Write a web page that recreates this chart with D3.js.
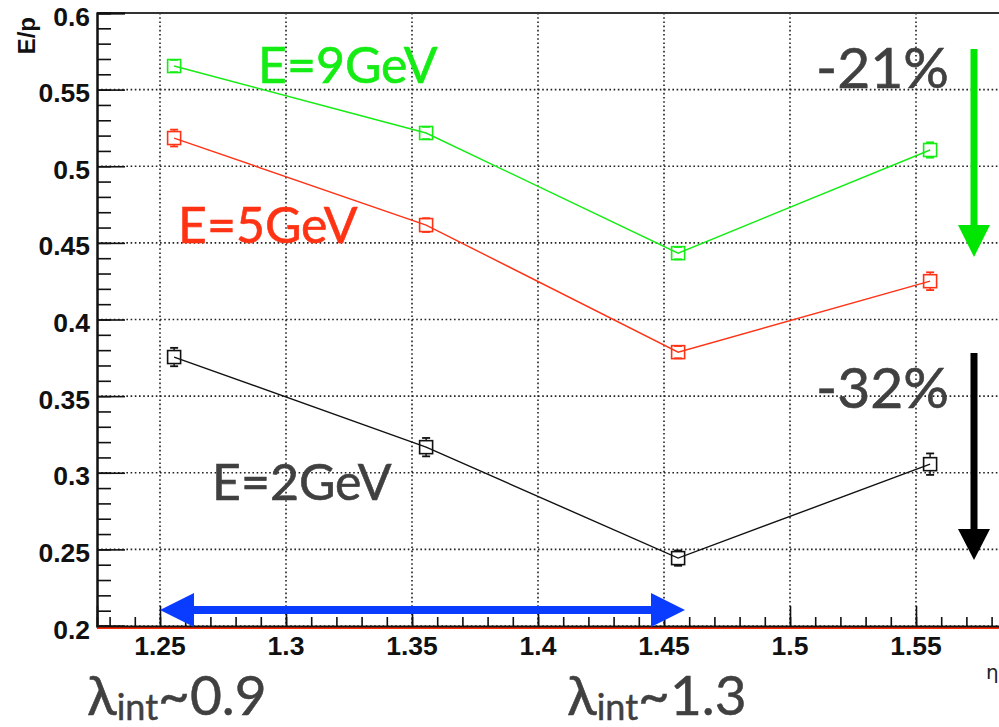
<!DOCTYPE html>
<html>
<head>
<meta charset="utf-8">
<script src="https://cdn.jsdelivr.net/npm/d3@7"></script>
<style>
  html, body { margin: 0; padding: 0; background: #fff; }
  svg { display: block; }
</style>
</head>
<body>
<div id="chart"></div>
<script>
// ---- data ----
const etaValues = [1.2556, 1.3556, 1.4556, 1.5556];
const series9GeV = [0.5654, 0.5217, 0.4433, 0.5106];
const errors9GeV = [0.004, 0.004, 0.004, 0.005];
const series5GeV = [0.5184, 0.4616, 0.3787, 0.4250];
const errors5GeV = [0.0055, 0.0045, 0.004, 0.0058];
const series2GeV = [0.3755, 0.3167, 0.2443, 0.3056];
const errors2GeV = [0.006, 0.006, 0.005, 0.007];
const seriesNames = ["E=9GeV", "E=5GeV", "E=2GeV"];
const xTickLabels = ["1.25", "1.3", "1.35", "1.4", "1.45", "1.5", "1.55"];
const yTickLabels = ["0.2", "0.25", "0.3", "0.35", "0.4", "0.45", "0.5", "0.55", "0.6"];

const W = 999, H = 727;
const green = "#14ec14", red = "#ff3214", black = "#111111", gray = "#404040", blue = "#0a3cff";

const svg = d3.select("#chart").append("svg").attr("width", W).attr("height", H);

const x = d3.scaleLinear().domain([1.225, 1.6]).range([97, 1042]);
const y = d3.scaleLinear().domain([0.2, 0.6]).range([626, 13]);

// grid
const grid = svg.append("g");
xTickLabels.map(Number).forEach(v => {
  grid.append("line").attr("x1", x(v)).attr("x2", x(v)).attr("y1", y(0.6)).attr("y2", y(0.2))
    .attr("stroke", "#222").attr("stroke-width", 1.6).attr("stroke-dasharray", "1.6,2.6");
});
yTickLabels.map(Number).forEach(v => {
  grid.append("line").attr("x1", x.range()[0]).attr("x2", W).attr("y1", y(v)).attr("y2", y(v))
    .attr("stroke", "#222").attr("stroke-width", 1.6).attr("stroke-dasharray", "1.6,2.6");
});

// frame top
svg.append("line").attr("x1", 97).attr("x2", W).attr("y1", y(0.6)).attr("y2", y(0.6))
  .attr("stroke", "#333").attr("stroke-width", 2.2);

// y axis (ticks inward)
const yAxisMajor = d3.axisRight(y).tickValues(yTickLabels.map(Number)).tickSize(28).tickFormat("");
const yAxisMinor = d3.axisRight(y).tickValues(d3.range(0.2, 0.6001, 0.01)).tickSize(14).tickFormat("");
const yg1 = svg.append("g").attr("transform", `translate(97,0)`).call(yAxisMinor);
const yg2 = svg.append("g").attr("transform", `translate(97,0)`).call(yAxisMajor);
[yg1, yg2].forEach(g => {
  g.select(".domain").attr("stroke", "#111").attr("stroke-width", 2);
  g.selectAll(".tick line").attr("stroke", "#111").attr("stroke-width", 1.6);
});
yTickLabels.forEach(t => {
  svg.append("text").attr("x", 90).attr("y", y(+t) + 3).attr("dy", "0.36em")
    .attr("text-anchor", "end").attr("font-family", "Liberation Sans, Arial, sans-serif")
    .attr("font-weight", "bold").attr("font-size", 26.5).attr("fill", "#111").text(t);
});

// red line at bottom
svg.append("line").attr("x1", 97).attr("x2", W).attr("y1", y(0.2) + 2).attr("y2", y(0.2) + 2)
  .attr("stroke", "#ff2a00").attr("stroke-width", 2);

// x axis (ticks inward)
const xAxisMajor = d3.axisTop(x).tickValues(xTickLabels.map(Number)).tickSize(20).tickFormat("");
const xAxisMinor = d3.axisTop(x).tickValues(d3.range(1.23, 1.6, 0.01)).tickSize(9).tickFormat("");
const xg1 = svg.append("g").attr("transform", `translate(0,${y(0.2)})`).call(xAxisMinor);
const xg2 = svg.append("g").attr("transform", `translate(0,${y(0.2)})`).call(xAxisMajor);
[xg1, xg2].forEach(g => {
  g.select(".domain").attr("stroke", "#111").attr("stroke-width", 1.6);
  g.selectAll(".tick line").attr("stroke", "#111").attr("stroke-width", 1.6);
});
xTickLabels.forEach(t => {
  svg.append("text").attr("x", x(+t)).attr("y", 655)
    .attr("text-anchor", "middle").attr("font-family", "Liberation Sans, Arial, sans-serif")
    .attr("font-weight", "bold").attr("font-size", 26.5).attr("fill", "#111").text(t);
});

// axis titles
svg.append("text").attr("transform", "translate(35,17) rotate(-90)").attr("text-anchor", "end")
  .attr("font-family", "Liberation Sans, Arial, sans-serif").attr("font-weight", "bold")
  .attr("font-size", 24).attr("fill", "#111").text("E/p");
svg.append("text").attr("x", 986).attr("y", 679).attr("font-family", "DejaVu Sans, sans-serif")
  .attr("font-size", 20).attr("fill", "#222").text("η");

// series
const allSeries = [
  { vals: series9GeV, errs: errors9GeV, color: green },
  { vals: series5GeV, errs: errors5GeV, color: red },
  { vals: series2GeV, errs: errors2GeV, color: black }
];
const half = 6.5;
const line = d3.line().x((d, i) => x(etaValues[i])).y(d => y(d));
allSeries.forEach(s => {
  const g = svg.append("g");
  g.append("path").attr("d", line(s.vals)).attr("fill", "none").attr("stroke", s.color).attr("stroke-width", 1.4);
  s.vals.forEach((v, i) => {
    const cx = x(etaValues[i]), cy = y(v);
    const e = s.errs[i];
    const yt = y(v + e), yb = y(v - e);
    if (cy - yt > half) {
      g.append("line").attr("x1", cx).attr("x2", cx).attr("y1", yt).attr("y2", cy - half)
        .attr("stroke", s.color).attr("stroke-width", 1.4);
    }
    if (yb - cy > half) {
      g.append("line").attr("x1", cx).attr("x2", cx).attr("y1", cy + half).attr("y2", yb)
        .attr("stroke", s.color).attr("stroke-width", 1.4);
    }
    [yt, yb].forEach(ey => {
      g.append("line").attr("x1", cx - 4).attr("x2", cx + 4).attr("y1", ey).attr("y2", ey)
        .attr("stroke", s.color).attr("stroke-width", 1.8);
    });
    g.append("rect").attr("x", cx - half).attr("y", cy - half).attr("width", 2 * half).attr("height", 2 * half)
      .attr("fill", "none").attr("stroke", s.color).attr("stroke-width", 1.6);
  });
});

// labels
const bigFont = "Lato, 'Open Sans', sans-serif";
const labelDefs = [
  { text: seriesNames[0], px: 258, py: 83, color: green },
  { text: seriesNames[1], px: 178, py: 243, color: red },
  { text: seriesNames[2], px: 212, py: 500, color: gray }
];
labelDefs.forEach(l => {
  svg.append("text").attr("x", l.px).attr("y", l.py).attr("font-family", bigFont)
    .attr("font-size", 50).attr("fill", l.color).attr("stroke", l.color).attr("stroke-width", 0.6)
    .text(l.text);
});
[["-21%", 88], ["-32%", 408]].forEach(([t, py]) => {
  svg.append("text").attr("x", 816).attr("y", py).attr("font-family", bigFont)
    .attr("font-size", 57).attr("fill", gray).attr("stroke", gray).attr("stroke-width", 0.6).text(t);
});

// arrows (vertical)
function vArrow(cx, yTop, yTip, shaft, headW, headL, color) {
  const p = d3.path();
  p.moveTo(cx - shaft / 2, yTop);
  p.lineTo(cx + shaft / 2, yTop);
  p.lineTo(cx + shaft / 2, yTip - headL);
  p.lineTo(cx + headW / 2, yTip - headL);
  p.lineTo(cx, yTip);
  p.lineTo(cx - headW / 2, yTip - headL);
  p.lineTo(cx - shaft / 2, yTip - headL);
  p.closePath();
  svg.append("path").attr("d", p.toString()).attr("fill", color);
}
vArrow(974, 49, 257, 7, 32, 32, "#00e600");
vArrow(974, 353, 560, 7, 32, 31, "#000");

// blue double arrow
(function () {
  const yc = 610, xl = x(1.25), xr = 685, hl = 34, hh = 17, sh = 4;
  const p = d3.path();
  p.moveTo(xl, yc);
  p.lineTo(xl + hl, yc - hh);
  p.lineTo(xl + hl, yc - sh);
  p.lineTo(xr - hl, yc - sh);
  p.lineTo(xr - hl, yc - hh);
  p.lineTo(xr, yc);
  p.lineTo(xr - hl, yc + hh);
  p.lineTo(xr - hl, yc + sh);
  p.lineTo(xl + hl, yc + sh);
  p.lineTo(xl + hl, yc + hh);
  p.closePath();
  svg.append("path").attr("d", p.toString()).attr("fill", blue);
})();

// lambda labels
[["0.9", 87], ["1.3", 567]].forEach(([v, px]) => {
  const t = svg.append("text").attr("x", px).attr("y", 715).attr("font-family", bigFont)
    .attr("font-size", 55).attr("fill", gray).attr("stroke", gray).attr("stroke-width", 0.5);
  t.append("tspan").text("λ");
  t.append("tspan").attr("font-size", 36).attr("dy", 5).text("int");
  t.append("tspan").attr("dy", -5).text("~" + v);
});
</script>
</body>
</html>
